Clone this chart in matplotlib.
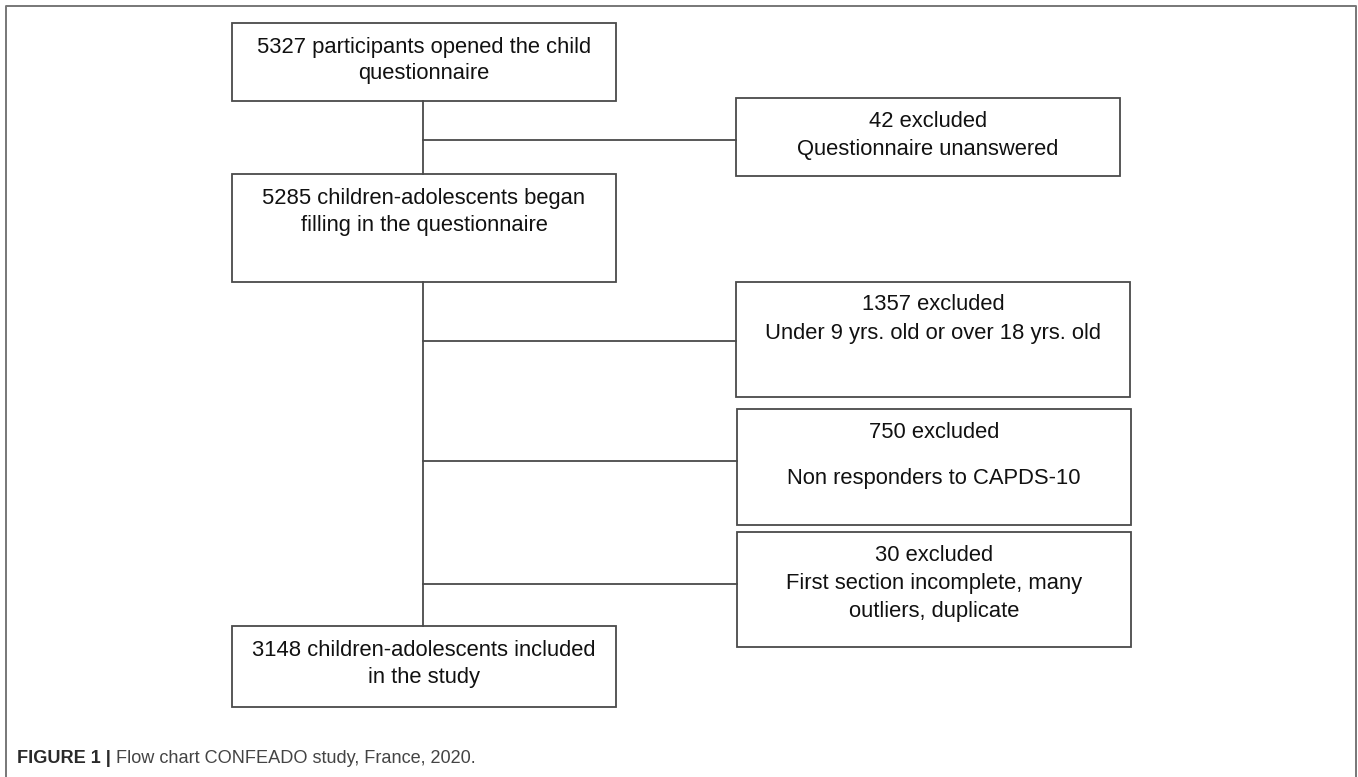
import matplotlib
matplotlib.use("Agg")
import matplotlib.pyplot as plt
from matplotlib.patches import Rectangle

# box texts (main column, then exclusion column)
main_labels = [
    ["5327 participants opened the child", "questionnaire"],
    ["5285 children-adolescents began", "filling in the questionnaire"],
    ["3148 children-adolescents included", "in the study"],
]
excl_labels = [
    ["42 excluded", "Questionnaire unanswered"],
    ["1357 excluded", "Under 9 yrs. old or over 18 yrs. old"],
    ["750 excluded", "", "Non responders to CAPDS-10"],
    ["30 excluded", "First section incomplete, many", "outliers, duplicate"],
]
caption_bold = "FIGURE 1 |"
caption_text = " Flow chart CONFEADO study, France, 2020."

# layout in pixels (x0, y0, x1, y1), first-line baseline, line step
main_boxes = [(232, 23, 616, 101, 53, 26),
              (232, 174, 616, 282, 204, 27),
              (232, 626, 616, 707, 656, 27)]
excl_boxes = [(736, 98, 1120, 176, 127, 28),
              (736, 282, 1130, 397, 310, 29),
              (737, 409, 1131, 525, 438, 23),
              (737, 532, 1131, 647, 561, 28)]
branch_y = [140, 341, 461, 584]
spine_x = 423

W, H = 1358, 777
fig = plt.figure(figsize=(W / 100, H / 100), dpi=100)
ax = fig.add_axes([0, 0, 1, 1])
ax.set_xlim(0, W)
ax.set_ylim(H, 0)
ax.axis("off")

edge = "#4a4a4a"
fs = 15.8

# outer frame (open at the bottom)
ax.plot([6, 6, 1356, 1356], [H, 6, 6, H], color="#777777", lw=1.4)


def draw_box(b, lines):
    x0, y0, x1, y1, base, step = b
    ax.add_patch(Rectangle((x0, y0), x1 - x0, y1 - y0, fill=False,
                           ec=edge, lw=1.3, zorder=3))
    cx = (x0 + x1) / 2
    for i, s in enumerate(lines):
        if s:
            ax.text(cx, base + i * step, s, ha="center", va="baseline",
                    fontsize=fs, family="Liberation Sans", color="#111111")


for b, lines in zip(main_boxes, main_labels):
    draw_box(b, lines)
for b, lines in zip(excl_boxes, excl_labels):
    draw_box(b, lines)

# connectors
ax.plot([spine_x, spine_x], [main_boxes[0][3], main_boxes[1][1]], color=edge, lw=1.3)
ax.plot([spine_x, spine_x], [main_boxes[1][3], main_boxes[2][1]], color=edge, lw=1.3)
for y, b in zip(branch_y, excl_boxes):
    ax.plot([spine_x, b[0]], [y, y], color=edge, lw=1.3)

# caption
cap_font = ["Liberation Sans Narrow", "Liberation Sans"]
t1 = ax.text(17, 763, caption_bold, fontsize=13.1, fontweight="bold",
             family=cap_font, color="#2a2a2a", va="baseline")
ax.annotate(caption_text, xy=(1, 0), xycoords=t1, va="bottom",
            fontsize=13.1, family=cap_font, color="#444444")

fig.savefig("out.png", dpi=100)
